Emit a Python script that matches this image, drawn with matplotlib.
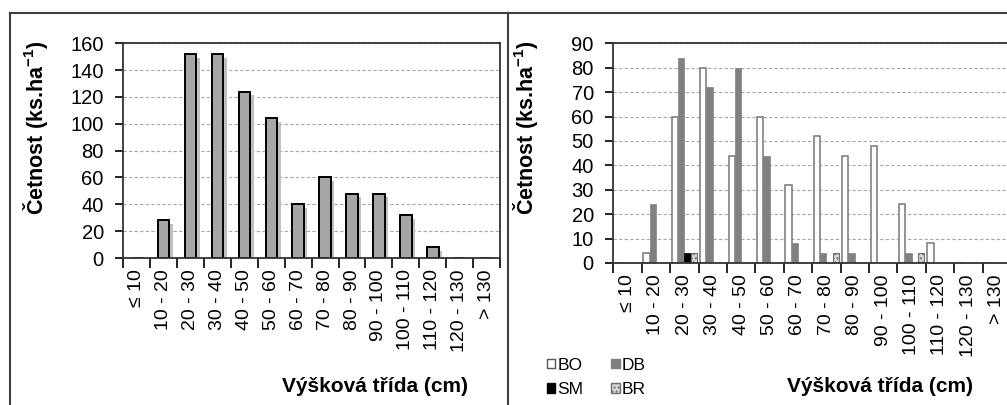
import numpy as np
import matplotlib.pyplot as plt
from matplotlib import patheffects
from matplotlib.patches import Patch
from matplotlib.lines import Line2D

plt.rcParams['font.family'] = ['Liberation Sans', 'DejaVu Sans']
plt.rcParams['mathtext.fontset'] = 'custom'
plt.rcParams['mathtext.rm'] = 'Liberation Sans:bold'
plt.rcParams['mathtext.bf'] = 'Liberation Sans:bold'
plt.rcParams['hatch.linewidth'] = 1.0

# vyskove tridy (cm)
tridy = ['≤ 10', '10 - 20', '20 - 30', '30 - 40', '40 - 50', '50 - 60', '60 - 70',
         '70 - 80', '80 - 90', '90 - 100', '100 - 110', '110 - 120', '120 - 130', '> 130']

# cetnost celkem (ks/ha)
celkem = [0, 28, 152, 152, 124, 104, 40, 60, 48, 48, 32, 8, 0, 0]

# cetnost podle drevin
bo = [0, 4, 60, 80, 44, 60, 32, 52, 44, 48, 24, 8, 0, 0]
db = [0, 24, 84, 72, 80, 44, 8, 4, 4, 0, 4, 0, 0, 0]
sm = [0, 0, 4, 0, 0, 0, 0, 0, 0, 0, 0, 0, 0, 0]
br = [0, 0, 4, 0, 0, 0, 0, 4, 0, 0, 4, 0, 0, 0]

W, H = 1007, 405
fig = plt.figure(figsize=(W / 100, H / 100), dpi=100)

ax1 = fig.add_axes([123.3 / W, 1 - 258 / H, 376.7 / W, 214.7 / H])
ax2 = fig.add_axes([613.3 / W, 1 - 263 / H, 397.6 / W, 219.7 / H])

x = np.arange(len(tridy))


def osy(ax, ymax, krok):
    ax.set_xlim(-0.5, len(tridy) - 0.5)
    ax.set_ylim(0, ymax)
    ax.set_yticks(np.arange(0, ymax + 1, krok))
    ax.set_xticks(x)
    ax.set_xticklabels(tridy, rotation=90, fontsize=14)
    ax.set_xticks(np.arange(len(tridy) + 1) - 0.5, minor=True)
    ax.tick_params(axis='x', which='major', length=0, pad=8)
    ax.tick_params(axis='x', which='minor', length=7, width=1.2, direction='out')
    ax.tick_params(axis='y', length=6, width=1.2, pad=8, labelsize=14.5)
    ax.grid(axis='y', color='#a8a8a8', linestyle=(0, (3, 2)), linewidth=0.8)
    ax.set_axisbelow(True)
    for s in ax.spines.values():
        s.set_color('#333333')
        s.set_linewidth(1.3)


# levy graf - celkem se stinem
stin = [patheffects.SimplePatchShadow(offset=(2.5, -2.5), shadow_rgbFace='#c0c0c0', alpha=1.0),
        patheffects.Normal()]
sloupce = ax1.bar(x, celkem, width=0.43, color='#a6a6a6', edgecolor='black', linewidth=1.4)
for b in sloupce:
    b.set_path_effects(stin)
osy(ax1, 160, 20)

# pravy graf - dreviny
w = 0.22
ax2.bar(x - 1.5 * w, bo, width=w, color='white', edgecolor='#777777', linewidth=1.1)
ax2.bar(x - 0.5 * w, db, width=w, color='#808080', edgecolor='#808080', linewidth=0.5)
ax2.bar(x + 0.5 * w, sm, width=w, color='black', edgecolor='black', linewidth=0.5)
ax2.bar(x + 1.5 * w, br, width=w, color='#d8d8d8', edgecolor='#707070', hatch='....', linewidth=0.8)
osy(ax2, 90, 10)

ylab = r'Četnost (ks.ha$^{\mathbf{-1}}$)'
fig.text(36 / W, 1 - 128 / H, ylab, rotation=90, ha='center', va='center',
         fontsize=15.5, fontweight='bold')
fig.text(525 / W, 1 - 128 / H, ylab, rotation=90, ha='center', va='center',
         fontsize=15.5, fontweight='bold')
fig.text(375 / W, 1 - 386 / H, 'Výšková třída (cm)', ha='center', va='center',
         fontsize=15, fontweight='bold')
fig.text(880 / W, 1 - 386 / H, 'Výšková třída (cm)', ha='center', va='center',
         fontsize=15, fontweight='bold')

# legenda
handles = [Patch(facecolor='white', edgecolor='#555555', label='BO'),
           Patch(facecolor='black', edgecolor='black', label='SM'),
           Patch(facecolor='#808080', edgecolor='#808080', label='DB'),
           Patch(facecolor='#d8d8d8', edgecolor='#707070', hatch='....', label='BR')]
fig.legend(handles=handles, ncol=2, loc='upper left', bbox_to_anchor=(538 / W, 1 - 349 / H),
           frameon=False, fontsize=12.5, handlelength=0.5, handleheight=0.5,
           handletextpad=0.12, columnspacing=1.6, labelspacing=0.55, borderpad=0)

# ramecky panelu
ramec = dict(color='#404040', linewidth=1.5, transform=fig.transFigure)
fig.add_artist(Line2D([10 / W, 1], [1 - 13 / H, 1 - 13 / H], **ramec))
fig.add_artist(Line2D([10 / W, 10 / W], [0, 1 - 13 / H], **ramec))
fig.add_artist(Line2D([508 / W, 508 / W], [0, 1 - 13 / H], **ramec))

fig.savefig('out.png', dpi=100)
